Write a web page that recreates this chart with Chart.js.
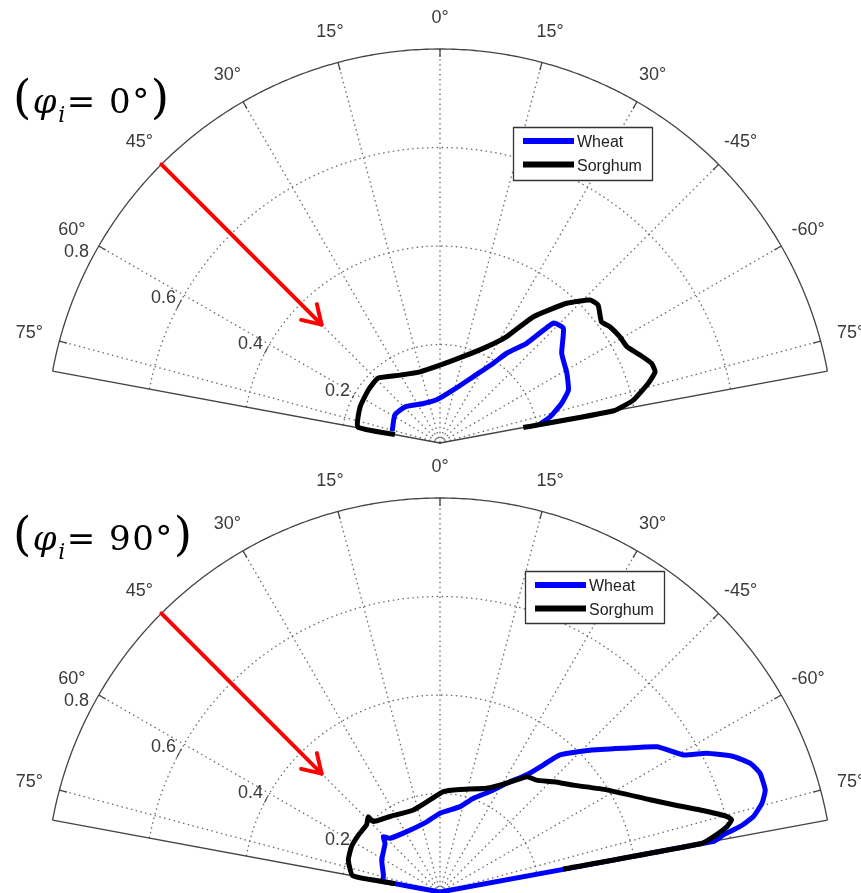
<!DOCTYPE html>
<html><head><meta charset="utf-8">
<script src="https://cdn.jsdelivr.net/npm/chart.js@4.4.1/dist/chart.umd.min.js"></script>
<style>
html,body{margin:0;padding:0;background:#fff;overflow:hidden;width:861px;height:893px;}
#wrap{position:relative;width:861px;height:893px;overflow:hidden;}
canvas{position:absolute;left:0;}
.title{position:absolute;left:13px;font-family:'DejaVu Serif',serif;font-size:34px;color:#000;white-space:nowrap;line-height:1;letter-spacing:1.5px;}
.title .p{font-size:47px;}
.title .phi{font-style:italic;}
.title sub{font-size:22px;font-style:italic;vertical-align:-9px;line-height:0;}
</style></head><body>
<div id="wrap">
<canvas id="c1" width="861" height="450" style="top:0"></canvas>
<canvas id="c2" width="861" height="444" style="top:449px"></canvas>
<div class="title" style="top:73px"><span class="p">(</span><span class="phi">φ</span><sub>i</sub>= 0°<span class="p">)</span></div>
<div class="title" style="top:510px"><span class="p">(</span><span class="phi">φ</span><sub>i</sub>= 90°<span class="p">)</span></div>
</div>
<script>
// ---------- data ----------
const angleTicks = [-75, -60, -45, -30, -15, 0, 15, 30, 45, 60, 75];
const angleTickLabels = ['75°', '60°', '45°', '30°', '15°', '0°', '15°', '30°', '-45°', '-60°', '75°'];
const radialTicks = [0.2, 0.4, 0.6, 0.8];
const radialTickLabels = ['0.2', '0.4', '0.6', '0.8'];
const angleLimit = 79.5;
const rMax = 0.8;
const seriesNames = ['Wheat', 'Sorghum'];
const seriesColors = ['#0000ff', '#000000'];

// top panel (phi_i = 0°)
const wheatTopTheta = [-76, -58.1, -43.9, -22.8, -4.4, 14.1, 26.7, 33.8, 36.6, 41.0, 43.4, 47.1, 53.6, 61.2, 67.6, 71.9, 76.6, 79.5];
const wheatTopR     = [0.100, 0.108, 0.102, 0.087, 0.088, 0.111, 0.151, 0.195, 0.227, 0.268, 0.335, 0.342, 0.307, 0.294, 0.282, 0.260, 0.230, 0.205];
const sorghumTopTheta = [-79.5, -79, -65.6, -53.5, -43.6, -30.5, -15.7, 0, 15.1, 25.9, 32.1, 36.5, 42.2, 46.4, 48.9, 53.1, 55.6, 59.4, 62.7, 66.3, 69.4, 71.7, 74.0, 77.5, 79.5, 79.5];
const sorghumTopR     = [0.093, 0.170, 0.178, 0.181, 0.182, 0.160, 0.150, 0.158, 0.182, 0.217, 0.255, 0.319, 0.383, 0.421, 0.426, 0.410, 0.418, 0.424, 0.427, 0.444, 0.459, 0.460, 0.440, 0.402, 0.359, 0.172];

// bottom panel (phi_i = 90°)
const wheatBottomTheta = [-79.5, -73.3, -61.2, -48.5, -45.7, -43.0, -28.9, -10.7, 0, 13.2, 19.6, 26.5, 31.5, 36.5, 39.2, 41.2, 46.6, 51.9, 56.2, 60.6, 62.5, 65.2, 67.5, 69.6, 72.6, 74.6, 76.5, 77.7, 78.6, 79.5, 79.5, -79.5, -79.5];
const wheatBottomR     = [0.118, 0.120, 0.135, 0.149, 0.161, 0.149, 0.140, 0.145, 0.160, 0.178, 0.202, 0.228, 0.259, 0.296, 0.334, 0.370, 0.419, 0.473, 0.530, 0.567, 0.610, 0.656, 0.682, 0.693, 0.692, 0.678, 0.654, 0.623, 0.587, 0.566, 0.000, 0.000, 0.118];
const sorghumBottomTheta = [-79.5, -79.5, -70.8, -62.8, -55.1, -47.6, -43.6, -43.5, -33.6, -18.0, -6.2, 1.9, 11.0, 24.2, 31.5, 37.0, 40.8, 46.0, 51.3, 58.5, 66.3, 69.5, 72.5, 75.2, 76.1, 77.2, 78.6, 79.5, 79.5];
const sorghumBottomR     = [0.093, 0.180, 0.197, 0.202, 0.202, 0.202, 0.211, 0.197, 0.184, 0.175, 0.188, 0.204, 0.212, 0.231, 0.259, 0.293, 0.300, 0.322, 0.347, 0.397, 0.466, 0.506, 0.554, 0.602, 0.610, 0.597, 0.566, 0.540, 0.254];

// incident direction arrow
const arrowTheta = -45;
const arrowR = [0.8, 0.34];

// ---------- helpers ----------
const D = Math.PI / 180;
function toXY(thetas, rs) {
  return thetas.map((t, i) => ({ x: rs[i] * Math.sin(t * D), y: rs[i] * Math.cos(t * D) }));
}

const polarPlugin = {
  id: 'polarFrame',
  beforeDatasetsDraw(chart) {
    const { ctx, scales: { x, y } } = chart;
    const P = (th, r) => [x.getPixelForValue(r * Math.sin(th * D)), y.getPixelForValue(r * Math.cos(th * D))];
    const arcPath = (r, a0, a1) => {
      ctx.beginPath();
      for (let a = a0; a <= a1 + 1e-9; a += 0.5) {
        const [px, py] = P(a, r);
        if (a === a0) ctx.moveTo(px, py); else ctx.lineTo(px, py);
      }
    };
    ctx.save();
    // dotted circles
    ctx.strokeStyle = '#6a6a6a';
    ctx.lineWidth = 1.3;
    ctx.setLineDash([1.5, 3.4]);
    radialTicks.forEach(r => { if (r < rMax - 1e-6) { arcPath(r, -angleLimit, angleLimit); ctx.stroke(); } });
    // dotted spokes
    angleTicks.forEach(a => {
      const [x0, y0] = P(a, 0), [x1, y1] = P(a, rMax);
      ctx.beginPath(); ctx.moveTo(x0, y0); ctx.lineTo(x1, y1); ctx.stroke();
    });
    ctx.setLineDash([]);
    // solid frame
    ctx.strokeStyle = '#444';
    ctx.lineWidth = 1.3;
    arcPath(rMax, -angleLimit, angleLimit); ctx.stroke();
    [-angleLimit, angleLimit].forEach(a => {
      const [x0, y0] = P(a, 0), [x1, y1] = P(a, rMax);
      ctx.beginPath(); ctx.moveTo(x0, y0); ctx.lineTo(x1, y1); ctx.stroke();
    });
    // ticks on the outer arc
    angleTicks.forEach(a => {
      const [x0, y0] = P(a, rMax), [x1, y1] = P(a, rMax - 0.016);
      ctx.beginPath(); ctx.moveTo(x0, y0); ctx.lineTo(x1, y1); ctx.stroke();
    });
    // short solid marks of circles near radial labels
    ctx.lineWidth = 1.1;
    radialTicks.forEach(r => { if (r < rMax - 1e-6) { arcPath(r, -63, -61); ctx.stroke(); } });
    // angle labels
    ctx.fillStyle = '#3a3a3a';
    ctx.font = '18px "Liberation Sans", Arial, sans-serif';
    ctx.textAlign = 'center';
    ctx.textBaseline = 'middle';
    angleTicks.forEach((a, i) => {
      const [px, py] = P(a, rMax * 1.079);
      ctx.fillText(angleTickLabels[i], px, py);
    });
    // radial labels
    ctx.textAlign = 'right';
    radialTicks.forEach((r, i) => {
      const [px, py] = P(-62, r);
      ctx.fillText(radialTickLabels[i], px - 3, py - 6);
    });
    ctx.restore();
  },
  afterDatasetsDraw(chart, args, opts) {
    const { ctx, scales: { x, y } } = chart;
    const P = (th, r) => [x.getPixelForValue(r * Math.sin(th * D)), y.getPixelForValue(r * Math.cos(th * D))];
    ctx.save();
    // arrow
    const [ax0, ay0] = P(arrowTheta, arrowR[0]);
    const [ax1, ay1] = P(arrowTheta, arrowR[1]);
    ctx.strokeStyle = '#ff0000';
    ctx.lineWidth = 4;
    ctx.lineCap = 'round';
    ctx.lineJoin = 'round';
    ctx.beginPath(); ctx.moveTo(ax0, ay0); ctx.lineTo(ax1, ay1); ctx.stroke();
    const ang = Math.atan2(ay1 - ay0, ax1 - ax0);
    const hl = 21, ha = 32 * D;
    ctx.beginPath();
    ctx.moveTo(ax1 - hl * Math.cos(ang - ha), ay1 - hl * Math.sin(ang - ha));
    ctx.lineTo(ax1, ay1);
    ctx.lineTo(ax1 - hl * Math.cos(ang + ha), ay1 - hl * Math.sin(ang + ha));
    ctx.stroke();
    // legend
    const L = opts.legendBox;
    ctx.lineCap = 'butt';
    ctx.fillStyle = '#fff';
    ctx.fillRect(L.left, L.top, L.width, L.height);
    ctx.strokeStyle = '#333';
    ctx.lineWidth = 1.3;
    ctx.strokeRect(L.left + 0.5, L.top + 0.5, L.width, L.height);
    ctx.font = '16px "Liberation Sans", Arial, sans-serif';
    ctx.textAlign = 'left';
    ctx.textBaseline = 'middle';
    chart.data.datasets.forEach((ds, i) => {
      const ry = L.top + 14 + i * 23.6;
      ctx.strokeStyle = ds.borderColor;
      ctx.lineWidth = 6;
      ctx.beginPath(); ctx.moveTo(L.left + 10, ry); ctx.lineTo(L.left + 61, ry); ctx.stroke();
      ctx.fillStyle = '#222';
      ctx.fillText(ds.label, L.left + 64, ry + 1.5);
    });
    ctx.restore();
  }
};

function makeChart(id, height, centerY, wheat, sorghum, legendBox) {
  const W = 861, cx = 440, k = 492.5;
  return new Chart(document.getElementById(id), {
    type: 'scatter',
    data: {
      datasets: [
        { label: seriesNames[0], data: wheat, borderColor: seriesColors[0], backgroundColor: seriesColors[0],
          showLine: true, pointRadius: 0, borderWidth: 5, tension: 0.15, fill: false, order: 1,
          borderJoinStyle: 'round', borderCapStyle: 'butt' },
        { label: seriesNames[1], data: sorghum, borderColor: seriesColors[1], backgroundColor: seriesColors[1],
          showLine: true, pointRadius: 0, borderWidth: 5, tension: 0.15, fill: false, order: 0,
          borderJoinStyle: 'round', borderCapStyle: 'butt' }
      ]
    },
    options: {
      responsive: false,
      animation: false,
      events: [],
      layout: { padding: 0 },
      scales: {
        x: { type: 'linear', display: false, min: -cx / k, max: (W - cx) / k },
        y: { type: 'linear', display: false, min: -(height - centerY) / k, max: centerY / k }
      },
      plugins: {
        legend: { display: false },
        tooltip: { enabled: false },
        polarFrame: { legendBox }
      }
    },
    plugins: [polarPlugin]
  });
}

makeChart('c1', 450, 443, toXY(wheatTopTheta, wheatTopR), toXY(sorghumTopTheta, sorghumTopR),
  { left: 513, top: 127, width: 139, height: 53 });
makeChart('c2', 444, 443, toXY(wheatBottomTheta, wheatBottomR), toXY(sorghumBottomTheta, sorghumBottomR),
  { left: 525, top: 122, width: 139, height: 52 });
</script>
</body></html>
